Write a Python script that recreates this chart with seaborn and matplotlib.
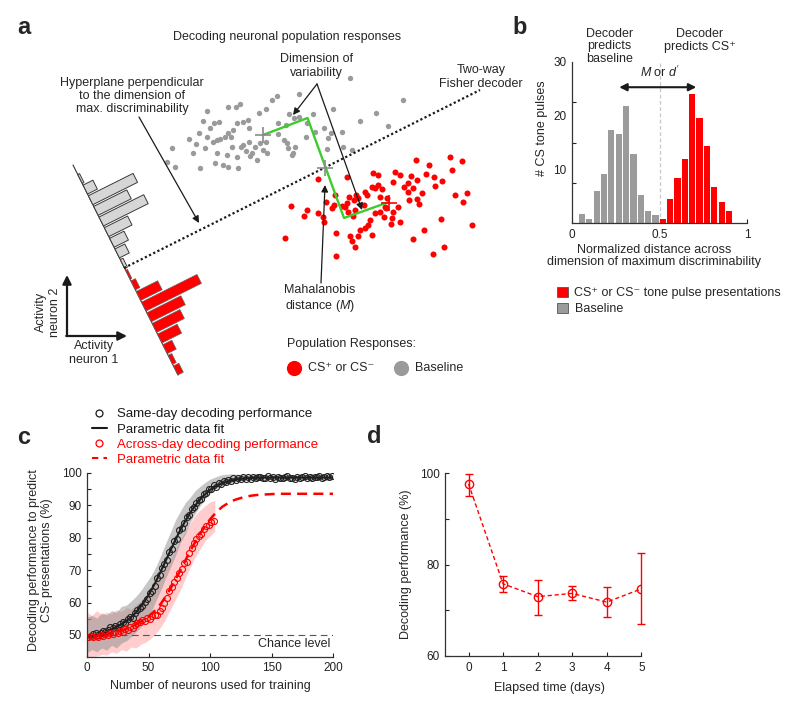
import numpy as np
import pandas as pd
import matplotlib
matplotlib.use('Agg')
import matplotlib.pyplot as plt
import matplotlib.transforms as mtransforms
from matplotlib.lines import Line2D
from matplotlib.patches import Patch
import seaborn as sns

# ---------------- panel a: schematic population responses (panel pixel units) ----------------
gray_x = [350, 299, 277, 272, 240, 236, 228, 266, 259, 207, 289, 294, 313, 333, 403, 376, 360,
          219, 214, 203, 210, 243, 237, 248, 233, 228, 231, 225, 217, 213, 220, 199, 189, 196,
          205, 193, 172, 167, 175, 200, 215, 223, 228, 238, 237, 246, 252, 249, 255, 249, 260,
          266, 267, 263, 278, 286, 278, 284, 287, 288, 293, 295, 292, 306, 315, 324, 331, 328,
          342, 352, 343, 327, 388, 307, 299, 243, 232, 241, 217, 227, 207, 257, 250]
gray_y = [78, 94, 96, 100, 104, 107, 107, 109, 113, 111, 114, 118, 114, 109, 100, 113, 121,
          122, 123, 121, 128, 122, 123, 120, 130, 133, 137, 137, 140, 142, 139, 133, 139, 144,
          148, 153, 148, 162, 167, 168, 163, 165, 167, 168, 157, 151, 153, 142, 147, 128, 143,
          142, 153, 150, 123, 125, 134, 140, 143, 148, 153, 147, 155, 137, 132, 128, 133, 138,
          132, 150, 147, 149, 126, 123, 117, 145, 147, 147, 153, 155, 137, 160, 156]
red_x = [318, 291, 307, 304, 318, 323, 324, 285, 326, 335, 336, 336, 334, 332, 347, 349, 347,
         356, 354, 358, 365, 367, 373, 378, 372, 375, 378, 382, 380, 364, 355, 353, 348, 345,
         342, 370, 368, 365, 360, 358, 352, 355, 350, 372, 375, 380, 386, 384, 392, 393, 398,
         391, 400, 395, 393, 400, 404, 408, 411, 413, 417, 408, 409, 422, 417, 419, 416, 426,
         429, 434, 435, 442, 450, 452, 462, 455, 463, 467, 441, 424, 413, 444, 433, 472, 387, 385]
red_y = [179, 206, 210, 216, 213, 217, 222, 238, 202, 195, 233, 256, 205, 208, 177, 197, 203,
         195, 200, 198, 192, 195, 173, 175, 187, 188, 185, 189, 197, 205, 210, 216, 212, 207,
         206, 220, 225, 228, 230, 236, 241, 247, 236, 235, 213, 212, 208, 217, 218, 212, 207,
         224, 222, 172, 182, 175, 187, 183, 176, 188, 180, 192, 200, 193, 199, 204, 160, 174,
         165, 177, 186, 181, 157, 170, 161, 195, 202, 193, 219, 230, 239, 247, 254, 225, 198, 207]
proj_gray = [2, 11, 50, 37, 50, 26, 16, 11, 3]
proj_red = [2, 5, 24, 62, 38, 31, 22, 10, 4, 6]
green_x = [263, 307.5, 344, 389]
green_y = [135, 118, 218, 202]

# ---------------- panel b: projected distances ----------------
base_centers = [0.057, 0.099, 0.141, 0.183, 0.225, 0.267, 0.309, 0.351, 0.393, 0.435, 0.477]
base_counts = [1.6, 0.8, 6.0, 9.1, 17.3, 16.6, 21.8, 12.8, 5.3, 2.2, 1.5]
cs_centers = [0.519, 0.561, 0.603, 0.645, 0.687, 0.729, 0.771, 0.813, 0.855, 0.897]
cs_counts = [0.8, 4.5, 8.3, 12.0, 24.0, 19.6, 14.3, 6.8, 3.9, 2.3]

# ---------------- panel c: decoding vs number of neurons ----------------
same_x = list(range(1, 200, 2))
same_perf = [49.5, 49.8, 50.2, 50.5, 50.1, 50.6, 51.2, 50.8, 51.5, 52.3,
             52.0, 52.8, 52.5, 53.4, 53.9, 53.6, 54.8, 55.6, 55.1, 56.9,
             57.6, 58.3, 59.0, 60.3, 61.0, 62.8, 63.5, 65.2, 67.4, 68.5,
             70.6, 72.0, 73.1, 75.6, 76.4, 78.9, 79.5, 82.3, 83.0, 84.6,
             86.4, 86.9, 88.7, 89.3, 90.8, 91.6, 92.0, 93.4, 93.6, 94.9,
             95.0, 96.1, 95.7, 96.8, 96.5, 97.4, 97.0, 97.8, 97.3, 98.3,
             97.8, 98.4, 98.0, 98.7, 98.2, 98.6, 98.2, 98.7, 98.3, 98.6,
             98.8, 98.3, 98.5, 98.9, 98.4, 98.6, 98.2, 98.7, 98.5, 98.3,
             98.6, 98.9, 98.4, 98.5, 98.2, 98.7, 98.4, 98.6, 98.9, 98.5,
             98.7, 98.4, 98.8, 98.6, 98.9, 98.5, 98.7, 99.0, 98.6, 98.9]
across_x = list(range(1, 104, 2))
across_perf = [49.3, 49.6, 49.4, 49.7, 49.5, 49.9, 49.6, 50.2, 49.9, 50.5,
               50.3, 50.9, 50.6, 51.3, 51.0, 51.8, 51.5, 52.4, 52.1, 53.2,
               53.6, 53.9, 54.6, 54.3, 55.2, 55.0, 55.8, 56.1, 56.0, 57.4,
               58.3, 59.9, 61.5, 63.4, 64.8, 66.3, 67.5, 69.2, 70.4, 72.1,
               72.6, 75.2, 76.8, 78.3, 79.6, 80.5, 81.2, 82.6, 83.5, 84.0,
               84.7, 85.2]
fit_x = list(range(0, 201, 5))
same_fit = [49.6, 49.8, 50.3, 50.9, 51.7, 52.7, 53.8, 55.2, 57.0, 59.4,
            62.3, 65.7, 69.6, 73.7, 77.8, 81.7, 85.2, 88.3, 90.9, 93.0,
            94.7, 95.9, 96.8, 97.4, 97.8, 98.1, 98.3, 98.4, 98.5, 98.5,
            98.5, 98.5, 98.5, 98.5, 98.5, 98.5, 98.5, 98.5, 98.5, 98.5, 98.5]
across_fit = [49.4, 49.5, 49.7, 50.0, 50.4, 50.9, 51.6, 52.4, 53.3, 54.4,
              55.7, 57.4, 59.6, 62.4, 65.7, 69.3, 73.0, 76.6, 80.0, 83.0,
              85.6, 87.8, 89.5, 90.7, 91.6, 92.2, 92.7, 93.0, 93.2, 93.3,
              93.4, 93.5, 93.5, 93.5, 93.5, 93.5, 93.5, 93.5, 93.5, 93.5, 93.5]
band_same_x = list(range(0, 201, 4))
band_same_lo = [44.5, 45.5, 44.8, 46.0, 45.3, 46.8, 46.0, 47.5, 48.2, 49.5,
                51.0, 52.5, 54.8, 57.0, 60.5, 63.8, 67.5, 71.0, 74.5, 78.5,
                81.2, 84.8, 87.5, 89.8, 92.0, 93.5, 94.8, 95.8, 96.4, 96.8,
                97.2, 97.5, 97.6, 97.8, 97.6, 97.9, 97.7, 97.9, 97.8, 97.6,
                97.9, 97.8, 97.7, 97.9, 97.8, 97.9, 97.7, 97.9, 97.8, 97.9, 97.8]
band_same_hi = [55.5, 56.0, 55.2, 56.8, 56.2, 57.5, 57.0, 58.8, 59.2, 60.5,
                62.0, 63.8, 66.0, 68.2, 71.0, 74.5, 78.3, 81.8, 85.5, 88.2,
                90.8, 92.5, 94.5, 95.8, 97.0, 98.0, 98.6, 99.2, 99.5, 99.6,
                99.6, 99.5, 99.4, 99.3, 99.5, 99.3, 99.4, 99.2, 99.4, 99.3,
                99.4, 99.3, 99.4, 99.2, 99.4, 99.3, 99.4, 99.3, 99.4, 99.3, 99.4]
band_across_x = list(range(0, 105, 4))
band_across_lo = [43.3, 43.3, 43.5, 44.0, 43.8, 44.8, 44.3, 45.5, 45.0, 46.3,
                  46.0, 47.2, 47.8, 49.0, 50.5, 52.5, 55.0, 58.0, 61.0, 64.0,
                  67.5, 71.0, 74.0, 76.5, 79.0, 80.5, 82.0]
band_across_hi = [57.0, 56.0, 57.5, 56.2, 57.0, 56.5, 57.8, 57.2, 58.5, 58.0,
                  59.5, 60.5, 62.0, 63.5, 65.8, 68.0, 71.0, 73.5, 76.5, 79.5,
                  82.0, 84.5, 87.0, 88.5, 89.8, 91.0, 91.5]

# ---------------- panel d: decoding across days ----------------
days = [0, 1, 2, 3, 4, 5]
day_perf = [97.7, 75.8, 73.0, 73.7, 71.8, 74.7]
day_lo = [95.0, 74.1, 68.9, 72.3, 68.5, 67.1]
day_hi = [99.9, 77.5, 76.6, 75.4, 75.0, 82.5]

# ---------------- style ----------------
sns.set_theme(style='ticks')
plt.rcParams['font.family'] = ['Liberation Sans', 'DejaVu Sans']
plt.rcParams['mathtext.fontset'] = 'custom'
plt.rcParams['mathtext.rm'] = 'Liberation Sans'
plt.rcParams['mathtext.it'] = 'Liberation Sans:italic'
FS = 9
RED = '#ff0000'

fig = plt.figure(figsize=(8, 7.08), dpi=100)


def px_axes(l, t, r, b):
    return fig.add_axes([l / 800, 1 - b / 708, (r - l) / 800, (b - t) / 708])


def style_axes(ax):
    sns.despine(ax=ax)
    for sp in ('left', 'bottom'):
        ax.spines[sp].set_color('#333333')
        ax.spines[sp].set_linewidth(0.9)
    ax.tick_params(which='both', direction='in', length=3, width=0.8,
                   colors='#222222', labelsize=8.5, pad=4)


# ======== panel a ========
ax_a = px_axes(0, 0, 540, 390)
ax_a.axis('off')

# histograms projected on the decoder axis
T = mtransforms.Affine2D(np.array([[0.447, 0.894, 73], [0.894, -0.447, 165], [0, 0, 1]])) + ax_a.transData
ax_a.plot([0, 235], [0, 0], transform=T, color='#333333', lw=0.8, zorder=1)
s_gray = [15.6 + 11.9 * i for i in range(len(proj_gray))]
s_red = [15.6 + 11.9 * (i + len(proj_gray)) for i in range(len(proj_red))]
ax_a.bar(s_gray, proj_gray, width=10, align='center', color='#d6d6d6',
         edgecolor='#3a3a3a', linewidth=0.7, transform=T, zorder=2)
ax_a.bar(s_red, proj_red, width=10, align='center', color=RED,
         edgecolor='#666666', linewidth=0.5, transform=T, zorder=2)

sns.scatterplot(x=gray_x, y=gray_y, ax=ax_a, color='#9a9a9a', s=15, linewidth=0, legend=False, zorder=3)
sns.scatterplot(x=red_x, y=red_y, ax=ax_a, color=RED, s=19, linewidth=0, legend=False, zorder=3)

ax_a.plot([124, 480], [268, 90], color='k', lw=1.6, ls=(0, (1, 1.1)), zorder=4)
ax_a.plot(green_x, green_y, color='#3ccc2c', lw=1.7, zorder=5)
ax_a.scatter([263, 325], [135, 168], marker='+', s=130, color='#8a8a8a', linewidths=1.2, zorder=6)
ax_a.scatter([389], [203], marker='+', s=130, color=RED, linewidths=1.2, zorder=6)

arr = dict(arrowstyle='-|>', color='k', lw=0.9, mutation_scale=10, shrinkA=0, shrinkB=0)
ax_a.annotate('', xy=(293, 115), xytext=(317, 84), arrowprops=arr)
ax_a.annotate('', xy=(362, 210), xytext=(317, 84), arrowprops=arr)
ax_a.annotate('', xy=(199, 223), xytext=(139, 117), arrowprops=arr)
ax_a.annotate('', xy=(325, 185), xytext=(321, 283), arrowprops=arr)
arr2 = dict(arrowstyle='-|>', color='k', lw=1.6, mutation_scale=13, shrinkA=0, shrinkB=0)
ax_a.annotate('', xy=(67, 275), xytext=(67, 336), arrowprops=arr2)
ax_a.annotate('', xy=(127, 336), xytext=(66.2, 336), arrowprops=arr2)

ax_a.text(94, 353, 'Activity\nneuron 1', ha='center', va='center', fontsize=FS, linespacing=1.15)
ax_a.text(48, 312, 'Activity\nneuron 2', ha='center', va='center', fontsize=FS, rotation=90, linespacing=1.15)

ax_a.text(24, 28, 'a', fontsize=17, fontweight='bold', ha='center', va='center')
ax_a.text(520, 28, 'b', fontsize=17, fontweight='bold', ha='center', va='center')
ax_a.text(287, 37, 'Decoding neuronal population responses', fontsize=FS, ha='center', va='center')
ax_a.text(316, 66, 'Dimension of\nvariability', fontsize=FS, ha='center', va='center', linespacing=1.15)
ax_a.text(132, 96, 'Hyperplane perpendicular\nto the dimension of\nmax. discriminability',
          fontsize=FS, ha='center', va='center', linespacing=1.15)
ax_a.text(481, 77, 'Two-way\nFisher decoder', fontsize=FS, ha='center', va='center', linespacing=1.3)
ax_a.text(320, 299, 'Mahalanobis\ndistance ($M$)', fontsize=FS, ha='center', va='center', linespacing=1.2)
ax_a.text(287, 344, 'Population Responses:', fontsize=FS, ha='left', va='center')
ax_a.scatter([294], [368], s=120, color=RED, linewidths=0)
ax_a.scatter([401], [368], s=120, color='#9a9a9a', linewidths=0)
ax_a.text(308, 368, 'CS⁺ or CS⁻', fontsize=FS, ha='left', va='center')
ax_a.text(415, 368, 'Baseline', fontsize=FS, ha='left', va='center')
ax_a.set_xlim(0, 540)
ax_a.set_ylim(390, 0)

# ======== panel b ========
ax_b = px_axes(572, 62, 747, 223)
bw = 0.042
df_base = pd.DataFrame({'dist': base_centers, 'n': base_counts})
df_cs = pd.DataFrame({'dist': cs_centers, 'n': cs_counts})
sns.histplot(data=df_base, x='dist', weights='n',
             bins=[c - bw / 2 for c in base_centers] + [base_centers[-1] + bw / 2],
             color='#9b9b9b', alpha=1, edgecolor='none', shrink=0.84, ax=ax_b)
sns.histplot(data=df_cs, x='dist', weights='n',
             bins=[c - bw / 2 for c in cs_centers] + [cs_centers[-1] + bw / 2],
             color=RED, alpha=1, edgecolor='none', shrink=0.84, ax=ax_b)
ax_b.plot([0.5, 0.5], [0, 30], color='#c8c8c8', lw=0.9, ls=(0, (3, 2)), zorder=0)
ax_b.annotate('', xy=(0.27, 25.3), xytext=(0.71, 25.3),
              arrowprops=dict(arrowstyle='<|-|>', color='k', lw=1.5, mutation_scale=11, shrinkA=0, shrinkB=0))
ax_b.text(0.503, 26.6, "$M$ or $d'$", fontsize=FS, ha='center', va='bottom')
ax_b.text(0.215, 29.4, 'Decoder\npredicts\nbaseline', fontsize=FS, ha='center', va='bottom', linespacing=1.08)
ax_b.text(0.73, 31.7, 'Decoder\npredicts CS⁺', fontsize=FS, ha='center', va='bottom', linespacing=1.15)
ax_b.set_xlim(0, 1)
ax_b.set_ylim(0, 30)
style_axes(ax_b)
ax_b.set_xticks([0, 0.5, 1])
ax_b.set_xticklabels(['0', '0.5', '1'])
ax_b.set_yticks([10, 20, 30])
ax_b.set_yticks([7.5, 15, 22.5, 30], minor=True)
ax_b.tick_params(axis='y', which='major', length=0)
ax_b.set_ylabel('# CS tone pulses', fontsize=FS)
ax_b.yaxis.set_label_coords(-0.14, 0.59)
ax_b.set_xlabel('Normalized distance across\ndimension of maximum discriminability', fontsize=FS, linespacing=1.05)
ax_b.xaxis.set_label_coords(0.47, -0.13)
fig.legend(handles=[Patch(facecolor=RED, edgecolor='#555555', lw=0.6),
                    Patch(facecolor='#9b9b9b', edgecolor='#555555', lw=0.6)],
           labels=['CS⁺ or CS⁻ tone pulse presentations', 'Baseline'],
           loc='upper left', bbox_to_anchor=(557 / 800, 1 - 287 / 708), frameon=False,
           fontsize=FS, handlelength=0.9, handleheight=0.9, handletextpad=0.5,
           labelspacing=0.25, borderpad=0, borderaxespad=0)

# ======== panel c ========
ax_c = px_axes(87, 472.7, 333, 656.7)
ax_c.fill_between(band_across_x, band_across_lo, band_across_hi, color='#ff9c9c', alpha=0.5, lw=0)
ax_c.fill_between(band_same_x, band_same_lo, band_same_hi, color='#8f8f8f', alpha=0.5, lw=0)
ax_c.plot([0, 200], [50, 50], color='#555555', lw=0.8, ls=(0, (6, 4)))
sns.lineplot(x=fit_x, y=across_fit, ax=ax_c, color=RED, lw=1.8, linestyle=(0, (4, 2.5)))
sns.lineplot(x=fit_x, y=same_fit, ax=ax_c, color='k', lw=1.5)
sns.lineplot(x=same_x, y=same_perf, ax=ax_c, linestyle='', marker='o', markerfacecolor='none',
             markeredgecolor='#222222', markersize=4.3, markeredgewidth=0.8)
sns.lineplot(x=across_x, y=across_perf, ax=ax_c, linestyle='', marker='o', markerfacecolor='none',
             markeredgecolor=RED, markersize=4.3, markeredgewidth=0.8)
ax_c.text(197.6, 47.2, 'Chance level', fontsize=FS, ha='right', va='center')
ax_c.set_xlim(0, 200)
ax_c.set_ylim(43.3, 100)
style_axes(ax_c)
ax_c.set_xticks([0, 50, 100, 150, 200])
ax_c.set_yticks([50, 60, 70, 80, 90, 100])
ax_c.set_yticks(np.arange(55, 100, 10), minor=True)
ax_c.set_xlabel('Number of neurons used for training', fontsize=FS)
ax_c.xaxis.set_label_coords(0.5, -0.125)
ax_c.set_ylabel('Decoding performance to predict\nCS- presentations (%)', fontsize=FS, linespacing=1.05)
ax_c.yaxis.set_label_coords(-0.14, 0.525)
leg_c = fig.legend(handles=[Line2D([], [], ls='none', marker='o', mfc='none', mec='k', ms=5, mew=0.9),
                            Line2D([], [], color='k', lw=1.5),
                            Line2D([], [], ls='none', marker='o', mfc='none', mec=RED, ms=5, mew=0.9),
                            Line2D([], [], color=RED, lw=1.5, ls=(0, (3, 2.5)))],
                   labels=['Same-day decoding performance', 'Parametric data fit',
                           'Across-day decoding performance', 'Parametric data fit'],
                   loc='upper left', bbox_to_anchor=(92 / 800, 1 - 408 / 708), frameon=False,
                   fontsize=9.5, handlelength=1.1, handletextpad=0.8, labelspacing=0.23,
                   borderpad=0, borderaxespad=0)
for t, c in zip(leg_c.get_texts(), ['k', 'k', RED, RED]):
    t.set_color(c)
fig.text(24 / 800, 1 - 438 / 708, 'c', fontsize=17, fontweight='bold', ha='center', va='center')
fig.text(374 / 800, 1 - 437 / 708, 'd', fontsize=17, fontweight='bold', ha='center', va='center')

# ======== panel d ========
ax_d = px_axes(445, 473.3, 641.3, 656)
perf = np.array(day_perf)
ax_d.errorbar(days, day_perf, yerr=[perf - np.array(day_lo), np.array(day_hi) - perf], fmt='none',
              ecolor=RED, elinewidth=1, capsize=3.2, capthick=1, clip_on=False)
sns.lineplot(x=days, y=day_perf, ax=ax_d, color=RED, lw=1, linestyle=(0, (3, 2)), marker='o',
             markerfacecolor='none', markeredgecolor=RED, markersize=6, markeredgewidth=1)
ax_d.set_xlim(-0.68, 5.0)
ax_d.set_ylim(60, 100)
style_axes(ax_d)
ax_d.set_xticks(days)
ax_d.set_yticks([60, 80, 100])
ax_d.set_yticks([70, 90], minor=True)
ax_d.set_xlabel('Elapsed time (days)', fontsize=FS)
ax_d.xaxis.set_label_coords(0.53, -0.14)
ax_d.set_ylabel('Decoding performance (%)', fontsize=FS)
ax_d.yaxis.set_label_coords(-0.17, 0.5)

fig.savefig('out.png', dpi=100)
